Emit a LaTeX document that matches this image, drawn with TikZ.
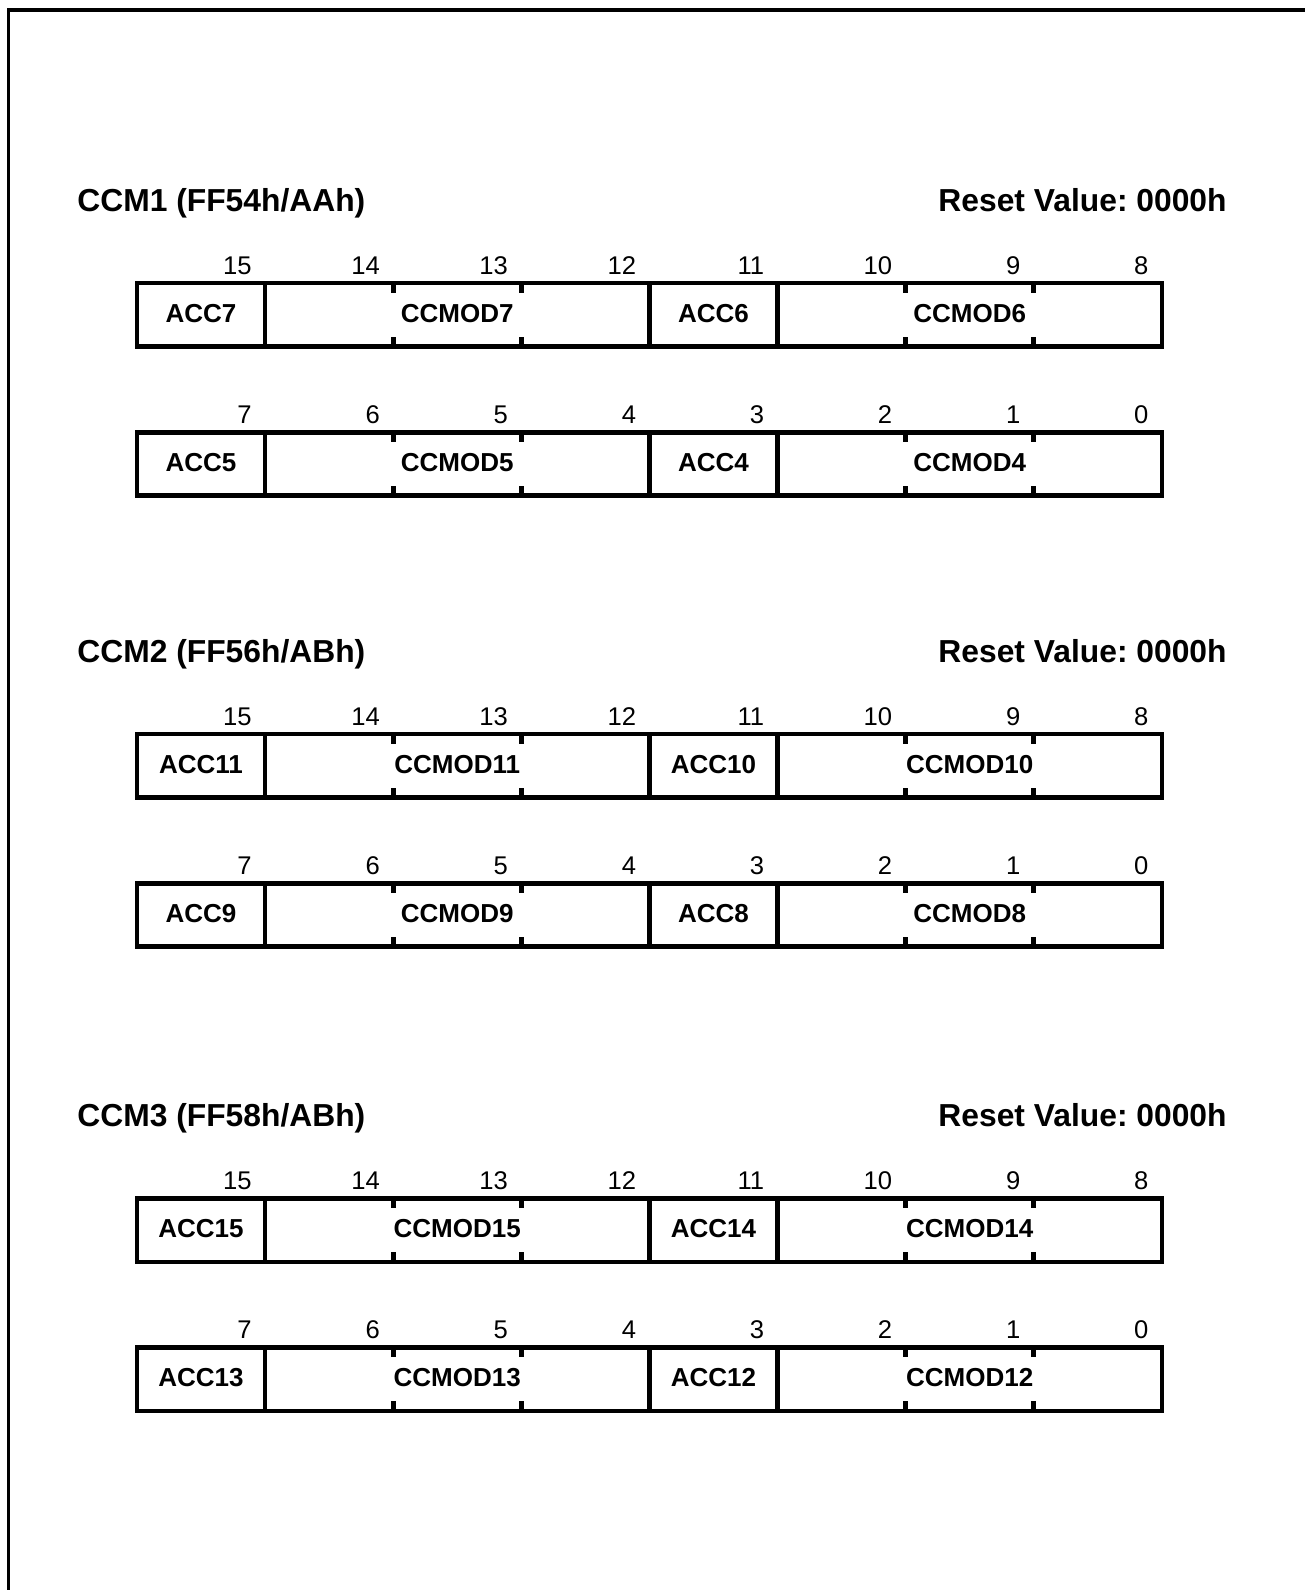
\documentclass[tikz,border=0pt]{standalone}
\usepackage{fontspec}
\setmainfont{Liberation Sans}
\frenchspacing
\tikzset{
  regline/.style={line width=2.3pt},
  frameline/.style={line width=1.65pt},
  titletext/.style={inner sep=0pt, font=\bfseries\fontsize{15.9}{18}\selectfont},
  bitnum/.style={inner sep=0pt, anchor=base east, font=\fontsize{12.8}{14}\selectfont},
  fieldlabel/.style={inner sep=0pt, anchor=center, font=\bfseries\fontsize{13}{15}\selectfont}
}
% #1 top y, #2 highest bit, #3 acc hi, #4 ccmod hi, #5 acc lo, #6 ccmod lo, #7 row id
\newcommand\regrow[7]{%
  \pgfmathsetmacro\rbot{#1+63.5}
  \draw[regline] (137,#1) rectangle (1161.8,\rbot);
  \draw[regline] (265.1,#1) -- (265.1,\rbot);
  \draw[regline] (649.4,#1) -- (649.4,\rbot);
  \draw[regline] (777.5,#1) -- (777.5,\rbot);
  \foreach \xx in {393.2,521.3,905.6,1033.7}{%
    \draw[regline] (\xx,#1) -- ++(0,10);
    \draw[regline] (\xx,\rbot) -- ++(0,-10);
  }
  \foreach \k in {0,...,7}{%
    \pgfmathtruncatemacro\bn{#2-\k}
    \node[bitnum] (bit#7-\k) at ({137+128.1*(\k+1)-13},{#1-9}) {\bn};
  }
  \node[fieldlabel] (n#3) at (201,{#1+30.5}) {#3};
  \node[fieldlabel] (n#4) at (457.25,{#1+30.5}) {#4};
  \node[fieldlabel] (n#5) at (713.45,{#1+30.5}) {#5};
  \node[fieldlabel] (n#6) at (969.65,{#1+30.5}) {#6};
}
\begin{document}
\begin{tikzpicture}[x=0.5pt,y=-0.5pt]
  \useasboundingbox (0,0) rectangle (1305,1590);
  \fill[white] (0,0) rectangle (1305,1590);
  \draw[frameline] (8.3,1590) -- (8.3,10) -- (1305,10);

  \node[titletext, anchor=base west] (t1) at (77,211.5) {CCM1 (FF54h/AAh)};
  \node[titletext, anchor=base east] (r1) at (1227,211.5) {Reset Value: 0000h};
  \regrow{283}{15}{ACC7}{CCMOD7}{ACC6}{CCMOD6}{a}
  \regrow{432.2}{7}{ACC5}{CCMOD5}{ACC4}{CCMOD4}{b}

  \node[titletext, anchor=base west] (t2) at (77,662.5) {CCM2 (FF56h/ABh)};
  \node[titletext, anchor=base east] (r2) at (1227,662.5) {Reset Value: 0000h};
  \regrow{734}{15}{ACC11}{CCMOD11}{ACC10}{CCMOD10}{c}
  \regrow{883.2}{7}{ACC9}{CCMOD9}{ACC8}{CCMOD8}{d}

  \node[titletext, anchor=base west] (t3) at (77,1126.8) {CCM3 (FF58h/ABh)};
  \node[titletext, anchor=base east] (r3) at (1227,1126.8) {Reset Value: 0000h};
  \regrow{1198.3}{15}{ACC15}{CCMOD15}{ACC14}{CCMOD14}{e}
  \regrow{1347.3}{7}{ACC13}{CCMOD13}{ACC12}{CCMOD12}{f}
\end{tikzpicture}
\end{document}
